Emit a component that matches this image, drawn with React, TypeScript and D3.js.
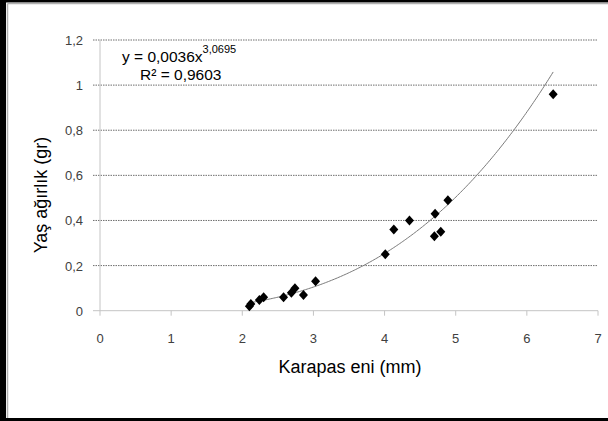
import React from "react";
import * as d3 from "d3";

const xValues = [2.1, 2.12, 2.24, 2.3, 2.58, 2.69, 2.74, 2.86, 3.03, 4.01, 4.13, 4.35, 4.7, 4.79, 4.71, 4.89, 6.37];
const yValues = [0.02, 0.03, 0.047, 0.06, 0.06, 0.08, 0.1, 0.07, 0.13, 0.25, 0.36, 0.4, 0.33, 0.35, 0.43, 0.49, 0.96];
const xTicks = [0, 1, 2, 3, 4, 5, 6, 7];
const yTicks = [0, 0.2, 0.4, 0.6, 0.8, 1, 1.2];
const coefA = 0.0036;
const coefB = 3.0695;
const eqText = "y = 0,0036x";
const eqSup = "3,0695";
const r2Text = "R² = 0,9603";
const xTitle = "Karapas eni (mm)";
const yTitle = "Yaş ağırlık (gr)";

const fmt = (v: number) => String(v).replace(".", ",");

export default function App() {
  const W = 608, H = 421;
  const x = d3.scaleLinear().domain([0, 7]).range([100, 598]);
  const y = d3.scaleLinear().domain([0, 1.2]).range([310.7, 40]);
  const xmin = d3.min(xValues)!;
  const xmax = d3.max(xValues)!;
  const curvePts = d3.range(0, 201).map(i => {
    const xv = xmin + (xmax - xmin) * i / 200;
    return [xv, coefA * Math.pow(xv, coefB)] as [number, number];
  });
  const line = d3.line<[number, number]>().x(d => x(d[0])).y(d => y(d[1]));
  const diamond = (cx: number, cy: number) => `M${cx},${cy - 5}L${cx + 4.5},${cy}L${cx},${cy + 5}L${cx - 4.5},${cy}Z`;
  const font = "'Liberation Sans', Arial, sans-serif";
  return (
    <svg width={W} height={H} style={{ position: "absolute", left: 0, top: 0, display: "block" }} fontFamily={font}>
      <rect x={0} y={0} width={W} height={H} fill="#fff" />
      {/* frame */}
      <rect x={0} y={0} width={6} height={H} fill="#000" />
      <rect x={0} y={0} width={W} height={2.5} fill="#000" />
      <rect x={0} y={418} width={W} height={3} fill="#000" />
      <line x1={7.5} y1={3.5} x2={W} y2={3.5} stroke="#b0b0b0" strokeWidth={1.5} />
      <line x1={7.5} y1={3.5} x2={7.5} y2={418} stroke="#b0b0b0" strokeWidth={1.5} />
      {/* gridlines */}
      {yTicks.filter(t => t > 0).map(t => (
        <line key={"g" + t} x1={93} x2={598} y1={y(t)} y2={y(t)} stroke="#6e6e6e" strokeWidth={1} strokeDasharray="1.5,1" />
      ))}
      {/* y axis */}
      <line x1={x(0)} x2={x(0)} y1={y(1.2)} y2={y(0)} stroke="#c4c4c4" strokeWidth={1} />
      <line x1={93} x2={x(0)} y1={y(0)} y2={y(0)} stroke="#c4c4c4" strokeWidth={1} />
      {/* x axis */}
      <line x1={x(0)} x2={x(7)} y1={y(0)} y2={y(0)} stroke="#c4c4c4" strokeWidth={1} />
      {xTicks.map(t => (
        <line key={"xt" + t} x1={x(t)} x2={x(t)} y1={y(0)} y2={y(0) + 5} stroke="#c4c4c4" strokeWidth={1} />
      ))}
      {xTicks.map(t => (
        <text key={"xl" + t} x={x(t)} y={y(0) + 32} textAnchor="middle" fontSize={13} fill="#404040">{fmt(t)}</text>
      ))}
      {yTicks.map(t => (
        <text key={"yl" + t} x={83} y={y(t) + 5} textAnchor="end" fontSize={13} fill="#404040">{fmt(t)}</text>
      ))}
      {/* trendline */}
      <path d={line(curvePts) || ""} fill="none" stroke="#7a7a7a" strokeWidth={1} />
      {/* points */}
      {xValues.map((xv, i) => (
        <path key={"p" + i} d={diamond(x(xv), y(yValues[i]))} fill="#000" />
      ))}
      {/* equation */}
      <text x={122} y={62} fontSize={15.5} fill="#000">
        {eqText}
        <tspan dy={-9} fontSize={11}>{eqSup}</tspan>
      </text>
      <text x={140} y={80} fontSize={15.5} fill="#000">{r2Text}</text>
      {/* titles */}
      <text x={350} y={373} textAnchor="middle" fontSize={18} fill="#000">{xTitle}</text>
      <text transform={`translate(47,195) rotate(-90)`} textAnchor="middle" fontSize={18} fill="#000">{yTitle}</text>
    </svg>
  );
}
